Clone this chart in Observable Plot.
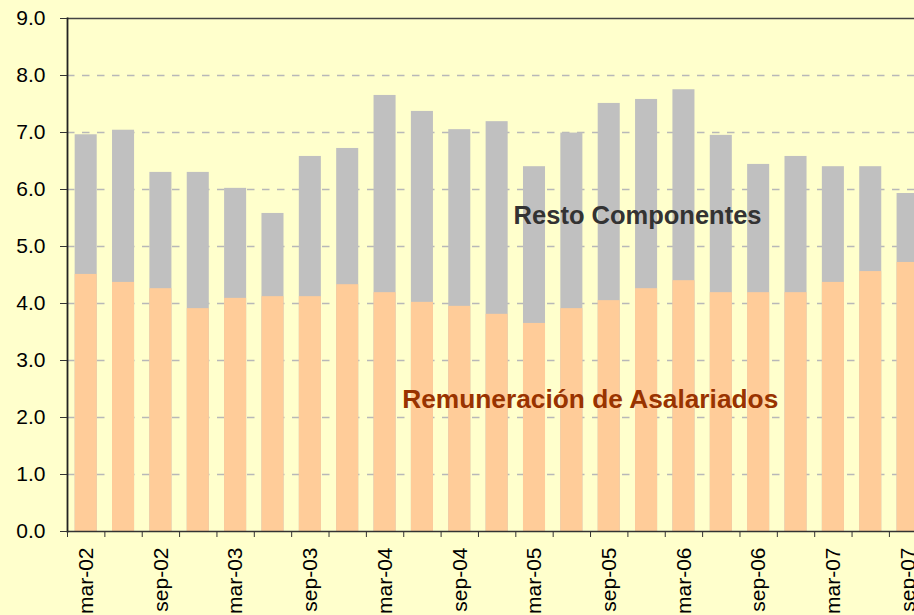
<!DOCTYPE html>
<html>
<head>
<meta charset="utf-8">
<script src="https://cdn.jsdelivr.net/npm/d3@7"></script>
<script src="https://cdn.jsdelivr.net/npm/@observablehq/plot@0.6"></script>
<style>
  html, body { margin: 0; padding: 0; background: #FFFFCC; overflow: hidden; }
  #chart { width: 914px; height: 615px; overflow: hidden; }
</style>
</head>
<body>
<div id="chart"></div>
<script>
const quarters = ["mar-02","jun-02","sep-02","dec-02","mar-03","jun-03","sep-03","dec-03",
  "mar-04","jun-04","sep-04","dec-04","mar-05","jun-05","sep-05","dec-05",
  "mar-06","jun-06","sep-06","dec-06","mar-07","jun-07","sep-07"];
const remuneracion = [4.51,4.37,4.26,3.91,4.09,4.12,4.12,4.33,
  4.19,4.02,3.95,3.81,3.65,3.91,4.05,4.26,
  4.40,4.19,4.19,4.19,4.37,4.56,4.72];
const total = [6.96,7.04,6.30,6.30,6.02,5.58,6.58,6.72,
  7.65,7.37,7.05,7.19,6.40,6.99,7.51,7.58,
  7.75,6.95,6.44,6.58,6.40,6.40,5.93];
const tickLabels = quarters.filter((d, i) => i % 2 === 0);
const yTicks = [0,1,2,3,4,5,6,7,8,9];
const labelResto = "Resto Componentes";
const labelRemun = "Remuneración de Asalariados";

const rows = quarters.map((q, i) => ({q, rem: remuneracion[i], total: total[i]}));

const step = 37.36;
const chart = Plot.plot({
  width: 914,
  height: 615,
  marginTop: 18,
  marginBottom: 84,
  marginLeft: 67,
  marginRight: 0,
  style: {background: "#FFFFCC", fontFamily: "'Liberation Sans', Arial, sans-serif", color: "#000"},
  x: {domain: quarters, range: [67, 67 + step * quarters.length], paddingInner: 0.41, paddingOuter: 0.205, round: false, label: null},
  y: {domain: [0, 9], label: null},
  marks: [
    Plot.gridY(yTicks.filter(d => d > 0 && d < 9), {stroke: "#B8B8B8", strokeOpacity: 1, strokeDasharray: "7.5,7.5", strokeWidth: 1.3}),
    Plot.barY(rows, {x: "q", y: "total", fill: "#C0C0C0"}),
    Plot.barY(rows, {x: "q", y: "rem", fill: "#FFCC99"}),
    Plot.ruleY([9], {stroke: "#444", strokeWidth: 1.3}),
    Plot.ruleY([0], {stroke: "#333", strokeWidth: 1.5}),
    Plot.frame({anchor: "left", stroke: "#222", strokeWidth: 1.8}),
    Plot.axisY({ticks: yTicks, tickFormat: d3.format(".1f"), tickSize: 7, tickPadding: 15, fontSize: 21, stroke: "#333", label: null}),
    Plot.axisX({ticks: quarters, tickFormat: () => "", tickSize: 6, dx: -step / 2, stroke: "#333", label: null}),
    Plot.axisX({ticks: tickLabels, tickSize: 0, tickPadding: 16, tickRotate: -90, fontSize: 21, label: null}),
    Plot.text([labelResto], {x: () => "dec-05", y: () => 5.40, text: d => d, dx: -9, lineAnchor: "bottom", fontSize: 25.5, fontWeight: "bold", fill: "#333333"}),
    Plot.text([labelRemun], {x: () => "sep-05", y: () => 2.175, text: d => d, dx: -19, lineAnchor: "bottom", fontSize: 26.3, fontWeight: "bold", fill: "#993300"})
  ]
});
document.getElementById("chart").appendChild(chart);
</script>
</body>
</html>
